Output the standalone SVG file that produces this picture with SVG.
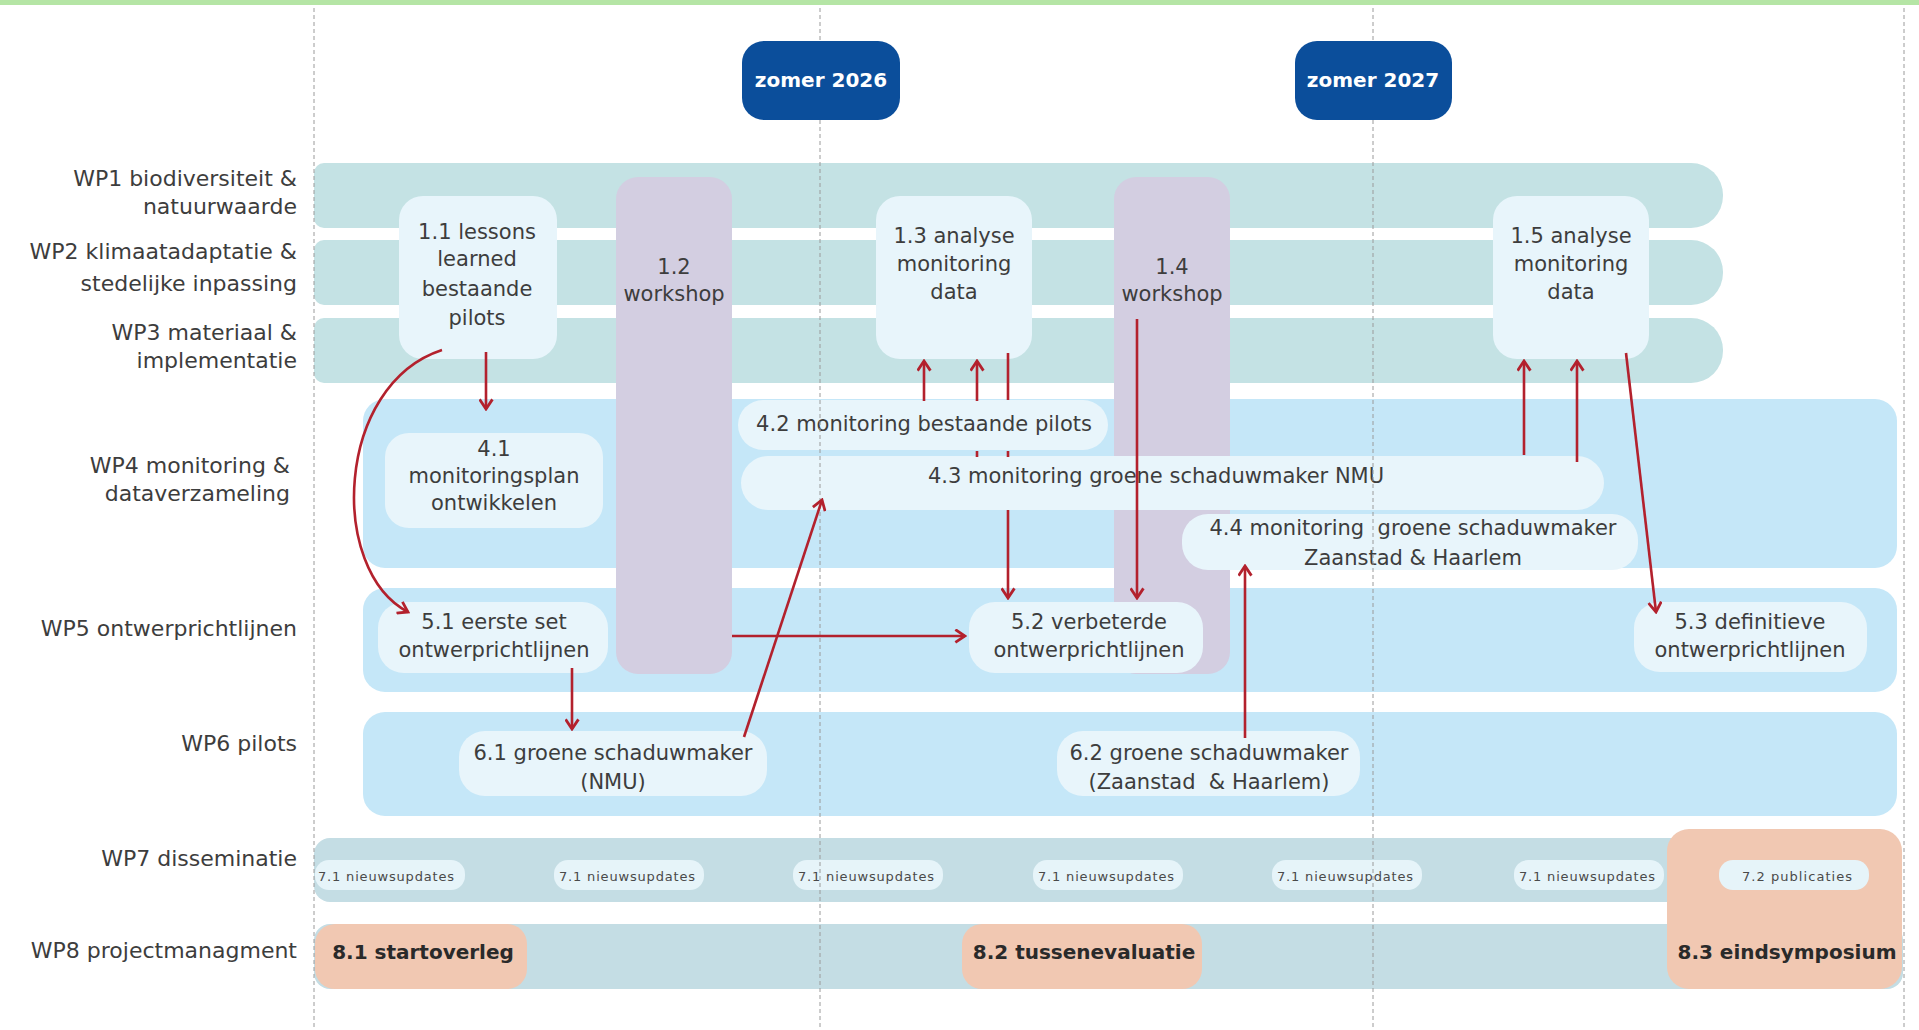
<svg xmlns="http://www.w3.org/2000/svg" width="1919" height="1030" viewBox="0 0 1919 1030">
<defs>
<style>
.lbl{font-family:"DejaVu Sans","Liberation Sans",sans-serif;font-size:22px;fill:#3d3d3d;text-anchor:end}
.nt{font-family:"DejaVu Sans","Liberation Sans",sans-serif;font-size:21px;fill:#3d3d3d;text-anchor:middle}
.pre{white-space:pre}
.pt{font-family:"DejaVu Sans","Liberation Sans",sans-serif;font-size:13px;fill:#4a4a4a;text-anchor:middle}
.bt{font-family:"DejaVu Sans","Liberation Sans",sans-serif;font-size:20px;font-weight:bold;fill:#2a2a2a;text-anchor:middle}
.badge{fill:#0b4e9b}
.badget{font-family:"DejaVu Sans","Liberation Sans",sans-serif;font-size:20px;font-weight:bold;fill:#ffffff;text-anchor:middle}
.b13{fill:#c4e2e4}
.b46{fill:#c5e7f8}
.b78{fill:#c4dde4}
.ws{fill:#d3cee1}
.nd{fill:#e8f5fb}
.sal{fill:#f1c8b2}
.pill{fill:#e6f4f9}
.dash{stroke:#9a9a9a;stroke-width:1;stroke-dasharray:4 3;fill:none}
.cn{stroke:#b3212d;stroke-width:2.6;fill:none;marker-end:url(#ah)}
</style>
<marker id="ah" viewBox="0 0 12 14" refX="10" refY="7" markerWidth="13" markerHeight="15" markerUnits="userSpaceOnUse" orient="auto">
<path d="M1,1 L10,7 L1,13" fill="none" stroke="#b3212d" stroke-width="2.6"/>
</marker>
</defs>
<rect x="0" y="0" width="1919" height="1030" fill="#ffffff"/>
<rect x="0" y="0" width="1919" height="5" fill="#b5e5a5"/>

<g id="lanes">
<g id="lane-wp1"><path class="b13" d="M324 163 H1691 A32 32 0 0 1 1723 195 V196 A32 32 0 0 1 1691 228 H324 A10 10 0 0 1 314 218 V173 A10 10 0 0 1 324 163 Z"/>
<text class="lbl" x="297" y="186">WP1 biodiversiteit &amp;</text><text class="lbl" x="297" y="214">natuurwaarde</text></g>
<g id="lane-wp2"><path class="b13" d="M324 240 H1691 A32 32 0 0 1 1723 272 V273 A32 32 0 0 1 1691 305 H324 A10 10 0 0 1 314 295 V250 A10 10 0 0 1 324 240 Z"/>
<text class="lbl" x="297" y="259">WP2 klimaatadaptatie &amp;</text><text class="lbl" x="297" y="291">stedelijke inpassing</text></g>
<g id="lane-wp3"><path class="b13" d="M324 318 H1691 A32 32 0 0 1 1723 350 V351 A32 32 0 0 1 1691 383 H324 A10 10 0 0 1 314 373 V328 A10 10 0 0 1 324 318 Z"/>
<text class="lbl" x="297" y="340">WP3 materiaal &amp;</text><text class="lbl" x="297" y="368">implementatie</text></g>
<g id="lane-wp4"><rect class="b46" x="363" y="399" width="1534" height="169" rx="22"/>
<text class="lbl" x="290" y="473">WP4 monitoring &amp;</text><text class="lbl" x="290" y="501">dataverzameling</text></g>
<g id="lane-wp5"><rect class="b46" x="363" y="588" width="1534" height="104" rx="22"/>
<text class="lbl" x="297" y="636">WP5 ontwerprichtlijnen</text></g>
<g id="lane-wp6"><rect class="b46" x="363" y="712" width="1534" height="104" rx="22"/>
<text class="lbl" x="297" y="751">WP6 pilots</text></g>
<g id="lane-wp7"><rect class="b78" x="314" y="838" width="1400" height="64" rx="16"/>
<text class="lbl" x="297" y="866">WP7 disseminatie</text></g>
<g id="lane-wp8"><rect class="b78" x="314" y="924" width="1589" height="65" rx="16"/>
<text class="lbl" x="297" y="958">WP8 projectmanagment</text></g>
</g>

<g id="n1-2"><rect class="ws" x="616" y="177" width="116" height="497" rx="22"/>
<text class="nt" x="674" y="274">1.2</text><text class="nt" x="674" y="301">workshop</text></g>
<g id="n1-4"><rect class="ws" x="1114" y="177" width="116" height="497" rx="22"/>
<text class="nt" x="1172" y="274">1.4</text><text class="nt" x="1172" y="301">workshop</text></g>

<g id="n1-1"><rect class="nd" x="399" y="196" width="158" height="163" rx="24"/>
<text class="nt" x="477" y="239">1.1 lessons</text><text class="nt" x="477" y="266">learned</text><text class="nt" x="477" y="296">bestaande</text><text class="nt" x="477" y="325">pilots</text></g>
<g id="n1-3"><rect class="nd" x="876" y="196" width="156" height="163" rx="24"/>
<text class="nt" x="954" y="243">1.3 analyse</text><text class="nt" x="954" y="271">monitoring</text><text class="nt" x="954" y="299">data</text></g>
<g id="n1-5"><rect class="nd" x="1493" y="196" width="156" height="163" rx="24"/>
<text class="nt" x="1571" y="243">1.5 analyse</text><text class="nt" x="1571" y="271">monitoring</text><text class="nt" x="1571" y="299">data</text></g>

<g id="n4-1"><rect class="nd" x="385" y="433" width="218" height="95" rx="24"/>
<text class="nt" x="494" y="456">4.1</text><text class="nt" x="494" y="483">monitoringsplan</text><text class="nt" x="494" y="510">ontwikkelen</text></g>
<g id="n4-2"><rect class="nd" x="738" y="400" width="370" height="50" rx="25"/>
<text class="nt" x="924" y="431">4.2 monitoring bestaande pilots</text></g>
<g id="n4-3"><rect class="nd" x="741" y="456" width="863" height="54" rx="27"/>
<text class="nt" x="1156" y="483">4.3 monitoring groene schaduwmaker NMU</text></g>
<g id="n4-4"><rect class="nd" x="1182" y="514" width="456" height="56" rx="26"/>
<text class="nt pre" x="1413" y="535">4.4 monitoring  groene schaduwmaker</text><text class="nt" x="1413" y="565">Zaanstad &amp; Haarlem</text></g>

<g id="n5-1"><rect class="nd" x="378" y="602" width="230" height="71" rx="26"/>
<text class="nt" x="494" y="629">5.1 eerste set</text><text class="nt" x="494" y="657">ontwerprichtlijnen</text></g>
<g id="n5-2"><rect class="nd" x="969" y="602" width="234" height="71" rx="26"/>
<text class="nt" x="1089" y="629">5.2 verbeterde</text><text class="nt" x="1089" y="657">ontwerprichtlijnen</text></g>
<g id="n5-3"><rect class="nd" x="1634" y="602" width="233" height="70" rx="26"/>
<text class="nt" x="1750" y="629">5.3 definitieve</text><text class="nt" x="1750" y="657">ontwerprichtlijnen</text></g>

<g id="n6-1"><rect class="nd" x="459" y="731" width="308" height="65" rx="26"/>
<text class="nt" x="613" y="760">6.1 groene schaduwmaker</text><text class="nt" x="613" y="789">(NMU)</text></g>
<g id="n6-2"><rect class="nd" x="1057" y="731" width="303" height="65" rx="26"/>
<text class="nt" x="1209" y="760">6.2 groene schaduwmaker</text><text class="nt pre" x="1209" y="789">(Zaanstad  &amp; Haarlem)</text></g>

<g id="n8-3"><rect class="sal" x="1667" y="829" width="235" height="160" rx="22"/>
<text class="bt" x="1787" y="959">8.3 eindsymposium</text></g>
<g id="n8-1"><rect class="sal" x="315" y="924" width="212" height="65" rx="20"/>
<text class="bt" x="423" y="959">8.1 startoverleg</text></g>
<g id="n8-2"><rect class="sal" x="962" y="924" width="240" height="65" rx="20"/>
<text class="bt" x="1084" y="959">8.2 tussenevaluatie</text></g>

<g id="n7-1a"><rect class="pill" x="315" y="860" width="150" height="30" rx="14"/><text class="pt" x="386" y="881" textLength="136">7.1 nieuwsupdates</text></g>
<g id="n7-1b"><rect class="pill" x="554" y="860" width="150" height="30" rx="14"/><text class="pt" x="627" y="881" textLength="136">7.1 nieuwsupdates</text></g>
<g id="n7-1c"><rect class="pill" x="793" y="860" width="150" height="30" rx="14"/><text class="pt" x="866" y="881" textLength="136">7.1 nieuwsupdates</text></g>
<g id="n7-1d"><rect class="pill" x="1033" y="860" width="150" height="30" rx="14"/><text class="pt" x="1106" y="881" textLength="136">7.1 nieuwsupdates</text></g>
<g id="n7-1e"><rect class="pill" x="1272" y="860" width="150" height="30" rx="14"/><text class="pt" x="1345" y="881" textLength="136">7.1 nieuwsupdates</text></g>
<g id="n7-1f"><rect class="pill" x="1514" y="860" width="150" height="30" rx="14"/><text class="pt" x="1587" y="881" textLength="136">7.1 nieuwsupdates</text></g>
<g id="n7-2"><rect class="pill" x="1719" y="860" width="150" height="30" rx="14"/><text class="pt" x="1797" y="881" textLength="110">7.2 publicaties</text></g>

<g id="timelines">
<line class="dash" x1="314" y1="8" x2="314" y2="1030"/>
<line class="dash" x1="820" y1="8" x2="820" y2="1030"/>
<line class="dash" x1="1373" y1="8" x2="1373" y2="1030"/>
<line class="dash" x1="1904" y1="8" x2="1904" y2="1030"/>
</g>

<g id="connectors">
<path class="cn" d="M486 352 V409"/>
<path class="cn" d="M442 350 C335 385, 328 570, 408 612"/>
<path class="cn" d="M572 668 V729"/>
<path class="cn" d="M732 636 H965"/>
<path class="cn" d="M744 737 L822 500"/>
<path class="cn" d="M924 401 V361"/>
<path class="cn" d="M977 457 V451 M977 401 V361"/>
<path class="cn" d="M1008 353 V400 M1008 451 V457 M1008 510 V598"/>
<path class="cn" d="M1137 319 V598"/>
<path class="cn" d="M1245 738 V566"/>
<path class="cn" d="M1524 455 V361"/>
<path class="cn" d="M1577 462 V361"/>
<path class="cn" d="M1626 353 L1656 612"/>
</g>

<g id="badge-2026"><rect class="badge" x="742" y="41" width="158" height="79" rx="22"/>
<text class="badget" x="821" y="87">zomer 2026</text></g>
<g id="badge-2027"><rect class="badge" x="1295" y="41" width="157" height="79" rx="22"/>
<text class="badget" x="1373" y="87">zomer 2027</text></g>
</svg>
